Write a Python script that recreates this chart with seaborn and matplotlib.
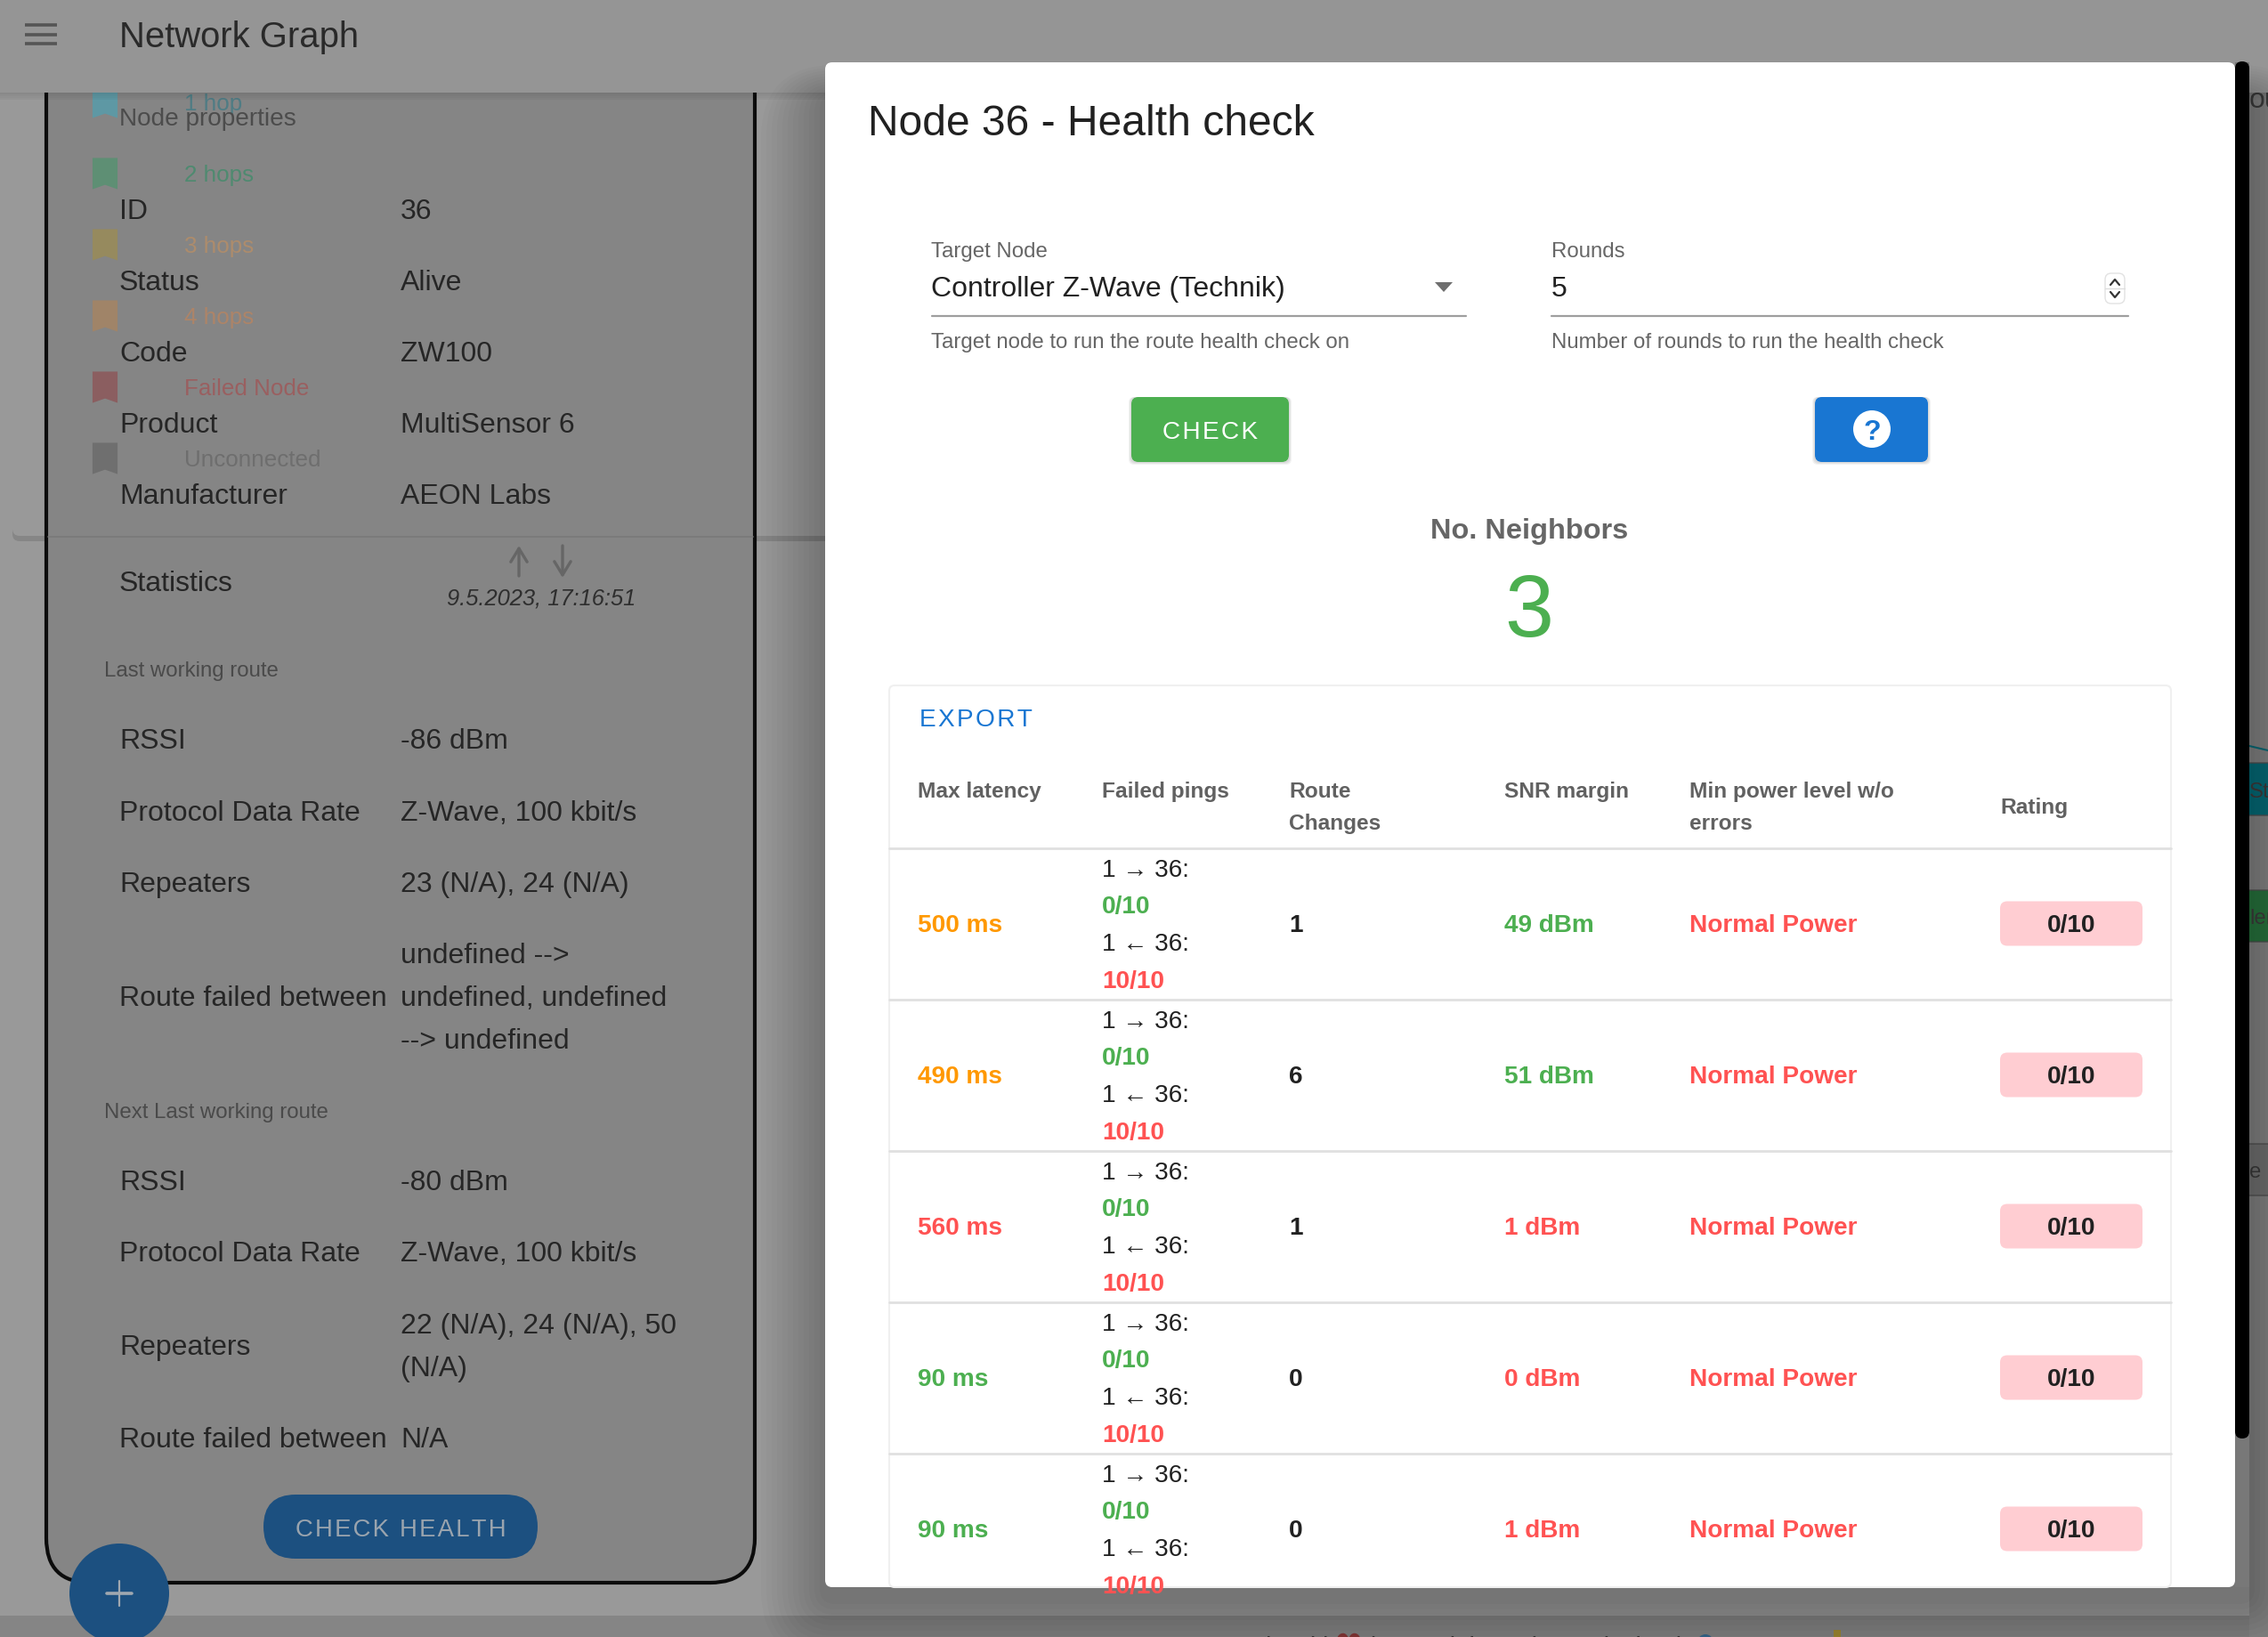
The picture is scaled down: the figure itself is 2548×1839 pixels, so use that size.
import matplotlib
matplotlib.use("Agg")
import matplotlib.pyplot as plt
from matplotlib.patches import FancyBboxPatch, Circle, Rectangle
from matplotlib.path import Path
import pandas as pd
import seaborn as sns

# values
node_props = ["ID", "Status", "Code", "Product", "Manufacturer"]
node_values = ["36", "Alive", "ZW100", "MultiSensor 6", "AEON Labs"]
hop_labels = ["1 hop", "2 hops", "3 hops", "4 hops", "Failed Node", "Unconnected"]
hop_marks = ["#5e98a4", "#5e8f74", "#968a5e", "#a08468", "#8b5e60", "#6f6f6f"]
hop_texts = ["#4f7c84", "#4f8a70", "#ad8c6c", "#ad8468", "#9a5f60", "#6e6e6e"]
last_route = ["-86 dBm", "Z-Wave, 100 kbit/s", "23 (N/A), 24 (N/A)"]
last_failed = ["undefined -->", "undefined, undefined", "--> undefined"]
next_route = ["-80 dBm", "Z-Wave, 100 kbit/s"]
next_repeaters = ["22 (N/A), 24 (N/A), 50", "(N/A)"]
route_labels = ["RSSI", "Protocol Data Rate", "Repeaters"]

max_latency = [500, 490, 560, 90, 90]
route_changes = [1, 6, 1, 0, 0]
snr_margin = [49, 51, 1, 0, 1]
power_level = ["Normal Power"] * 5
ratings = ["0/10"] * 5
pings_out = ["0/10"] * 5
pings_in = ["10/10"] * 5
header_cols = ["Max latency", "Failed pings", "Route\nChanges", "SNR margin",
               "Min power level w/o\nerrors", "Rating"]

GREEN = "#4caf50"
ORANGE = "#ff9800"
RED = "#ff5252"
BLUE = "#1976d2"
INK = "#212121"
DARK_BLUE = "#1c5080"

sns.set_theme(style="white")
plt.rcParams["font.family"] = ["Liberation Sans", "DejaVu Sans"]

fig = plt.figure(figsize=(25.48, 18.4), dpi=100)
ax = fig.add_axes([0, 0, 1, 1])


def txt(x, y, s, px, color=INK, ha="left", z=2, **kw):
    # y is the middle of the capitals, sizes are in image pixels
    return ax.text(x, y + 0.35 * px, s, fontsize=px * 0.72, color=color, ha=ha,
                   va="baseline", zorder=z, **kw)


def box(x0, y0, x1, y1, r, fc, ec="none", lw=0, z=1, **kw):
    p = FancyBboxPatch((x0 + r, y0 + r), x1 - x0 - 2 * r, y1 - y0 - 2 * r,
                       boxstyle=f"round,pad={r},rounding_size={r}",
                       fc=fc, ec=ec, lw=lw, zorder=z, **kw)
    ax.add_patch(p)
    return p


def rect(x0, y0, x1, y1, fc, z=0, **kw):
    ax.add_patch(Rectangle((x0, y0), x1 - x0, y1 - y0, fc=fc, ec="none", lw=0, zorder=z, **kw))


def spaced(s):
    return "\u200a".join(s)


# page behind the dialog
rect(0, 0, 2548, 1840, "#999999")
rect(0, 1816, 2548, 1840, "#858585", z=0.1)
rect(2527, 0, 2548, 1840, "#8a8a8a", z=0.1)
box(14, 60, 1000, 609, 8, "black", z=0.15, alpha=0.12)
box(14, 60, 1000, 603, 8, "#999999", z=0.2)
box(52, 40, 848, 1779, 50, "#858585", ec="#0c0c0c", lw=3, z=0.5)
ax.plot([54, 846], [604, 604], color="#787878", lw=1.2, zorder=0.6)

# footer, mostly below the picture
txt(1374, 1848, "Made with", 28, color="#333333", z=0.3)
txt(1515, 1848, "\u2665", 36, color="#8a3a3a", ha="center", z=0.3, family="DejaVu Sans")
txt(1540, 1848, "by Daniel Lando - Enjoying it?", 28, color="#333333", z=0.3)
ax.add_patch(Circle((1916, 1846), 9, fc="#3a6a90", ec="none", lw=0, zorder=0.3))
rect(2060, 1832, 2068, 1840, "#a08a30", z=0.3)

# node colour legend
bookmark = Path([(-0.8, -1), (0, -0.72), (0.8, -1), (0.8, 1), (-0.8, 1), (-0.8, -1)], closed=True)
legend_df = pd.DataFrame({"label": hop_labels, "row": range(len(hop_labels))})
legend_df["x"] = 118
legend_df["y"] = 116 + 80 * legend_df["row"]
sns.scatterplot(data=legend_df, x="x", y="y", hue="label", palette=hop_marks, marker=bookmark,
                s=640, linewidth=0, edgecolor="none", legend=False, ax=ax, zorder=1)
for i, (lab, col) in enumerate(zip(hop_labels, hop_texts)):
    txt(207, 115 + 80 * i, lab, 26, color=col, z=1.2)

LBL = "#262626"
txt(134, 131, "Node properties", 28, color="#4c4c4c")
for i, (k, v) in enumerate(zip(node_props, node_values)):
    txt(134, 235 + 80 * i, k, 32, color=LBL)
    txt(450, 235 + 80 * i, v, 32, color=LBL)

txt(134, 653, "Statistics", 32, color=LBL)
for x, (a, b) in zip([583, 632], [(648, 614), (614, 650)]):
    ax.annotate("", xy=(x, b), xytext=(x, a), zorder=2,
                arrowprops=dict(arrowstyle="->,head_width=0.55,head_length=0.9", color="#666666", lw=2.4,
                                shrinkA=0, shrinkB=0))
txt(608, 671, "9.5.2023, 17:16:51", 25.5, color="#2e2e2e", ha="center", style="italic")

txt(117, 752, "Last working route", 24, color="#4a4a4a")
for y, k, v in zip([830, 911, 991], route_labels, last_route):
    txt(134, y, k, 32, color=LBL)
    txt(450, y, v, 32, color=LBL)
txt(134, 1119, "Route failed between", 32, color=LBL)
for y, v in zip([1071, 1119, 1167], last_failed):
    txt(450, y, v, 32, color=LBL)

txt(117, 1248, "Next Last working route", 24, color="#4a4a4a")
for y, k, v in zip([1326, 1406], route_labels, next_route):
    txt(134, y, k, 32, color=LBL)
    txt(450, y, v, 32, color=LBL)
txt(134, 1511, route_labels[2], 32, color=LBL)
for y, v in zip([1487, 1535], next_repeaters):
    txt(450, y, v, 32, color=LBL)
txt(134, 1615, "Route failed between", 32, color=LBL)
txt(450, 1615, "N/A", 32, color=LBL)

box(296, 1680, 604, 1752, 36, DARK_BLUE, z=2)
txt(450, 1716, spaced("CHECK HEALTH"), 27.5, color="#9aa4ae", ha="center", z=2.1)
ax.add_patch(Circle((134, 1791), 56, fc=DARK_BLUE, ec="none", lw=0, zorder=2.5))
ax.plot([120, 148], [1791, 1791], color="#a0a8b0", lw=2.6, zorder=2.6)
ax.plot([134, 134], [1777, 1805], color="#a0a8b0", lw=1.6, zorder=2.6)

# bits of the graph at the right edge
ax.plot([2527, 2548], [839, 844], color="#0e6f7f", lw=1.5, zorder=1)
clip_right = Rectangle((2527, 0), 21, 1840, transform=ax.transData)
for y0, y1, fc, s in [(858, 917, "#0e6f7f", "Ste"), (1001, 1059, "#2a7a46", "ler"), (1286, 1344, "#777777", "e")]:
    box(2500, y0, 2600, y1, 6, fc, ec="#555555", lw=1, z=1)
    t = txt(2527, (y0 + y1) / 2, s, 24, color="#444444", z=1.2)
    t.set_clip_path(clip_right)
t = txt(2527, 110, "ou", 32, color="#444444", z=1.2)
t.set_clip_path(clip_right)

# app bar
rect(0, 0, 2548, 105, "#959595", z=3)
for s in range(4):
    rect(0, 105 + s * 2, 2548, 107 + s * 2, "black", z=3, alpha=0.10 - s * 0.022)
for y in [29, 40, 50]:
    ax.plot([28, 64], [y, y], color="#555555", lw=2.6, zorder=3.1, solid_capstyle="butt")
txt(134, 39, "Network Graph", 40, color="#2a2a2a", z=3.1)

# dialog shadow, scrollbar, dialog
for grow in range(6, 78, 6):
    box(927 - grow, 110 - grow // 2, 2527 + grow, 1783 + grow + 14, 12 + grow, "black", z=3.5, alpha=0.018)
rect(2511, 71, 2527, 1784, "#787878", z=4)
box(2511, 70, 2527, 1617, 8, "black", z=4.1)
box(927, 71, 2511, 1784, 8, "white", z=5)

txt(975, 135, "Node 36 - Health check", 48, color=INK, z=6)

# form row
txt(1046, 281, "Target Node", 24, color="#666666", z=6)
txt(1046, 322, "Controller Z-Wave (Technik)", 32, color=INK, z=6)
txt(1046, 383, "Target node to run the route health check on", 24, color="#666666", z=6)
ax.plot([1047, 1647], [356, 356], color="#9e9e9e", lw=1.6, zorder=6)
ax.fill([1612, 1632, 1622], [318, 318, 329], color="#6e6e6e", zorder=6, lw=0)

txt(1743, 281, "Rounds", 24, color="#666666", z=6)
txt(1743, 322, "5", 32, color=INK, z=6)
txt(1743, 383, "Number of rounds to run the health check", 24, color="#666666", z=6)
ax.plot([1743, 2391], [356, 356], color="#9e9e9e", lw=1.6, zorder=6)
box(2365, 308, 2387, 342, 7, "white", ec="#e2e2e2", lw=1, z=6)
ax.plot([2365, 2387], [325, 325], color="#dddddd", lw=1, zorder=6.1)
ax.plot([2371, 2376, 2381], [321, 315, 321], color="#333333", lw=1.6, zorder=6.1)
ax.plot([2371, 2376, 2381], [329, 335, 329], color="#333333", lw=1.6, zorder=6.1)

# buttons
for g in range(1, 4):
    box(1271 - g, 447, 1448 + g, 520 + g, 6, "black", z=5.5, alpha=0.05)
    box(2039 - g, 447, 2166 + g, 520 + g, 6, "black", z=5.5, alpha=0.05)
box(1271, 447, 1448, 520, 8, GREEN, z=6)
txt(1360, 483, spaced("CHECK"), 28, color="white", ha="center", z=6.1)
box(2039, 447, 2166, 520, 8, BLUE, z=6)
ax.add_patch(Circle((2103, 483), 21, fc="white", ec="none", lw=0, zorder=6.1))
txt(2103, 483, "?", 32, color=BLUE, ha="center", z=6.2, fontweight="bold")

txt(1718, 594, "No. Neighbors", 32.5, color="#666666", ha="center", z=6, fontweight="bold")
txt(1718, 680, "3", 99, color=GREEN, ha="center", z=6)

# results table
COLS = [1031, 1238, 1448, 1690, 1898, 2247]
ROW_TOP = 954
ROW_H = 170
box(999, 771, 2439, 1784, 6, "white", ec="#f0f0f0", lw=1.5, z=5.2)
txt(1033, 806, spaced("EXPORT"), 28, color=BLUE, z=6)

clip_modal = Rectangle((927, 71), 1584, 1713, transform=ax.transData)

for x, h in zip(COLS, header_cols):
    parts = h.split("\n")
    ys = [887, 923] if len(parts) == 2 else [905 if h == "Rating" else 887]
    for y, part in zip(ys, parts):
        txt(x, y, part, 24.5, color="#616161", z=6, fontweight="bold")


def latency_color(v):
    return RED if v > 500 else ORANGE if v > 100 else GREEN


def snr_color(v):
    return GREEN if v > 20 else RED


for i in range(len(max_latency)):
    top = ROW_TOP + i * ROW_H
    mid = top + ROW_H / 2 - 1.5
    ax.plot([999, 2439], [top, top], color="#e0e0e0", lw=2, zorder=5.5)
    cells = [
        txt(COLS[0], mid, f"{max_latency[i]} ms", 28, color=latency_color(max_latency[i]), z=6, fontweight="bold"),
        txt(COLS[2], mid, str(route_changes[i]), 28, color=INK, z=6, fontweight="bold"),
        txt(COLS[3], mid, f"{snr_margin[i]} dBm", 28, color=snr_color(snr_margin[i]), z=6, fontweight="bold"),
        txt(COLS[4], mid, power_level[i], 28, color=RED, z=6, fontweight="bold"),
        txt(COLS[1], mid - 62.5, "1 \u2192 36:", 28, color=INK, z=6),
        txt(COLS[1], mid - 21, pings_out[i], 28, color=GREEN, z=6, fontweight="bold"),
        txt(COLS[1], mid + 21, "1 \u2190 36:", 28, color=INK, z=6),
        txt(COLS[1], mid + 62.5, pings_in[i], 28, color=RED, z=6, fontweight="bold"),
    ]
    for c in cells:
        c.set_clip_path(clip_modal)
    box(2247, mid - 24, 2407, mid + 26, 8, "#ffcdd2", z=6)
    txt(2327, mid, ratings[i], 28, color=INK, ha="center", z=6.1, fontweight="bold")

ax.set_xlim(0, 2548)
ax.set_ylim(1840, 0)
ax.set_xlabel("")
ax.set_ylabel("")
ax.axis("off")

fig.savefig("out.png", dpi=100)
